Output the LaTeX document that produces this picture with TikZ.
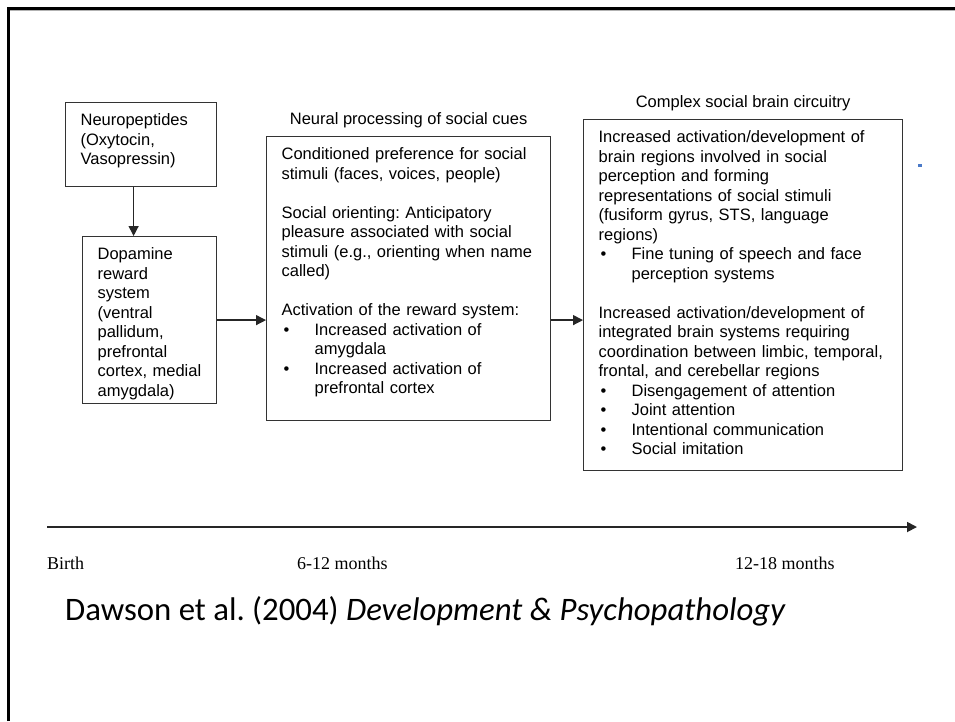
\documentclass[tikz,border=0pt]{standalone}
\usepackage{fontspec}
\setmainfont{Liberation Sans}
\newfontfamily\axisfont{Liberation Serif}
\newfontfamily\citefont{Carlito}
\usepackage{tikz}
\usetikzlibrary{positioning}
\usetikzlibrary{arrows.meta}
\definecolor{markblue}{RGB}{74,122,200}
\newcommand{\bul}{\makebox[33pt][l]{\hspace{2pt}\textbullet}}
\newcommand{\hang}{\hspace*{33pt}}
\frenchspacing

\begin{document}
\begin{tikzpicture}[x=1pt,y=-1pt,
  box/.style={draw=black!80,line width=1.2pt,anchor=north west,align=left,
    inner xsep=15pt,inner ysep=0pt,text height=23pt,
    font=\fontsize{16.5}{19.5}\selectfont},
  head/.style={inner sep=0pt,font=\fontsize{16.5}{19.5}\selectfont},
  conn/.style={-{Triangle[length=10pt,width=10pt]},line width=1.3pt,draw=black!85},
  month/.style={anchor=base west,inner sep=0pt,font=\axisfont\fontsize{18}{21}\selectfont}]
\useasboundingbox (0,0) rectangle (955,721);
\draw[black!30,line width=1pt] (10,10.8) -- (955,10.8);
\draw[line width=3pt] (8.5,721) -- (8.5,8.5) -- (955,8.5);

\node[box,text width=121pt,text depth=61pt] (pep) at (65,102)
  {Neuropeptides\\(Oxytocin,\\Vasopressin)};
\node[box,text width=104pt,text depth=144pt] (dopa) at (82,236)
  {Dopamine\\reward\\system\\(ventral\\pallidum,\\prefrontal\\cortex, medial\\amygdala)};
\node[box,text width=254pt,text depth=261pt] (cues) at (266,136)
  {Conditioned preference for social\\
   stimuli (faces, voices, people)\\[19.5pt]
   Social orienting: Anticipatory\\
   pleasure associated with social\\
   stimuli (e.g., orienting when name\\
   called)\\[19.5pt]
   Activation of the reward system:\\
   \bul Increased activation of\\
   \hang amygdala\\
   \bul Increased activation of\\
   \hang prefrontal cortex};
\node[box,text width=289pt,text depth=328pt] (brain) at (583,119)
  {Increased activation/development of\\
   brain regions involved in social\\
   perception and forming\\
   representations of social stimuli\\
   (fusiform gyrus, STS, language\\
   regions)\\
   \bul Fine tuning of speech and face\\
   \hang perception systems\\[19.5pt]
   Increased activation/development of\\
   integrated brain systems requiring\\
   coordination between limbic, temporal,\\
   frontal, and cerebellar regions\\
   \bul Disengagement of attention\\
   \bul Joint attention\\
   \bul Intentional communication\\
   \bul Social imitation};
\node[head,above=8pt of cues] (cuestitle) {Neural processing of social cues};
\node[head,above=8pt of brain] (braintitle) {Complex social brain circuitry};

\draw[conn] ([xshift=-7.5pt]pep.south) -- ([xshift=-7.5pt]pep.south |- dopa.north);
\draw[conn] (dopa.east) -- (dopa.east -| cues.west);
\draw[conn] (cues.east |- dopa.east) -- (dopa.east -| brain.west);

% time line
\coordinate (t0) at (47,527);
\coordinate (t1) at (917,527);
\draw[conn,line width=1.8pt] (t0) -- (t1);
\node[month] (birth) at (47,569) {Birth};
\node[month] (early) at (297,569) {6-12 months};
\node[month] (late) at (735,569) {12-18 months};

\node[anchor=base west,inner sep=0pt,font=\citefont\fontsize{32.8}{38}\selectfont] (cite)
  at (65,620) {Dawson et al. (2004) \textit{Development \& Psychopathology}};
\fill[markblue] (918,164) rectangle (922,166.5);
\end{tikzpicture}
\end{document}
